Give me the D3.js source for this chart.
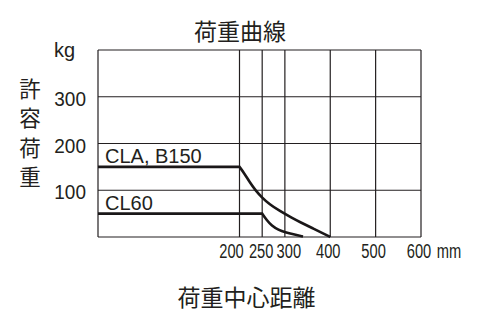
<!DOCTYPE html>
<html><head><meta charset="utf-8">
<script src="https://cdn.jsdelivr.net/npm/d3@7"></script>
<style>
html,body{margin:0;padding:0;background:#fff;}
svg{display:block;}
</style></head>
<body>
<script>
const xTicks = [200, 250, 300, 400, 500, 600];
const yTicks = [100, 200, 300];
const xDomain = [0, 200, 600];
const yDomain = [0, 400];
const seriesNames = ["CLA, B150", "CL60"];
const claMM = [0, 200, 210, 222, 235, 250, 266, 288, 317, 333, 363, 392, 400];
const claKG = [150, 150, 137, 118, 100, 84, 70, 56, 40, 32, 18, 4, 0];
const cl60MM = [0, 250, 260, 271, 286, 300, 322, 340];
const cl60KG = [50, 50, 36, 24, 15, 10, 5, 1];
const title = "荷重曲線";
const xTitle = "荷重中心距離";
const yTitle = ["許", "容", "荷", "重"];
const yUnit = "kg";
const xUnit = "mm";

const W = 480, H = 330;
const svg = d3.select("body").append("svg").attr("width", W).attr("height", H);
const x = d3.scaleLinear().domain(xDomain).range([98, 239.5, 421]);
const y = d3.scaleLinear().domain(yDomain).range([237, 50]);
const ink = "#231f20";
const cjk = "'Noto Sans CJK JP', sans-serif";
const lat = "'Liberation Sans', Arial, sans-serif";
const narrow = "'Liberation Sans Narrow', 'Liberation Sans', sans-serif";

// grid
const g = svg.append("g").attr("stroke", ink).attr("stroke-width", 1.2).attr("fill", "none");
g.selectAll(".h").data(yTicks.concat(yDomain)).join("line")
  .attr("x1", x(0)).attr("x2", x(600)).attr("y1", d => y(d)).attr("y2", d => y(d));
g.selectAll(".v").data([0].concat(xTicks)).join("line")
  .attr("x1", d => x(d)).attr("x2", d => x(d)).attr("y1", y(0)).attr("y2", y(400));

// curves: the knee (index 1) is repeated so the B-spline keeps its corner
function pts(mm, kg) {
  const p = d3.zip(mm, kg);
  return [p[0], p[1], p[1], ...p.slice(1)];
}
const line = d3.line().x(d => x(d[0])).y(d => y(d[1])).curve(d3.curveBasis);
const series = [pts(claMM, claKG), pts(cl60MM, cl60KG)];
svg.append("g").selectAll("path").data(series).join("path")
  .attr("d", line).attr("fill", "none").attr("stroke", "#1a1718").attr("stroke-width", 2.6);

// series labels
svg.append("g").selectAll("text").data(seriesNames).join("text")
  .attr("x", 105).attr("y", (d, i) => y(i === 0 ? 150 : 50) - 4)
  .attr("font-family", lat).attr("font-size", 20).attr("fill", ink).text(d => d);

// y tick labels
svg.append("g").selectAll("text").data(yTicks).join("text")
  .attr("transform", d => `translate(86,${y(d) + 9}) scale(0.95,1)`).attr("text-anchor", "end")
  .attr("font-family", lat).attr("font-size", 20).attr("fill", ink).text(d => d);
svg.append("text").attr("x", 75).attr("y", 57).attr("text-anchor", "end")
  .attr("font-family", lat).attr("font-size", 20).attr("fill", ink).text(yUnit);

// x tick labels
const nudge = {200: -8, 250: -1, 300: 4, 400: -2, 500: -2, 600: -2};
svg.append("g").selectAll("text").data(xTicks).join("text")
  .attr("transform", d => `translate(${x(d) + (nudge[d] || 0)},257.5) scale(0.7,1)`)
  .attr("text-anchor", "middle")
  .attr("font-family", narrow).attr("font-size", 21).attr("fill", ink).text(d => d);
svg.append("text").attr("transform", "translate(449,257.5) scale(0.7,1)").attr("text-anchor", "middle")
  .attr("font-family", narrow).attr("font-size", 21).attr("fill", ink).text(xUnit);

// titles
svg.append("text").attr("x", 240).attr("y", 40).attr("text-anchor", "middle")
  .attr("font-family", cjk).attr("font-size", 23).attr("fill", ink).text(title);
svg.append("text").attr("x", 246.5).attr("y", 306).attr("text-anchor", "middle")
  .attr("font-family", cjk).attr("font-size", 23).attr("fill", ink).text(xTitle);
svg.append("g").selectAll("text").data(yTitle).join("text")
  .attr("x", 30).attr("y", (d, i) => 89 + i * 29.5).attr("dy", "0.36em").attr("text-anchor", "middle")
  .attr("font-family", cjk).attr("font-size", 21.5).attr("fill", ink).text(d => d);
</script>
</body></html>
